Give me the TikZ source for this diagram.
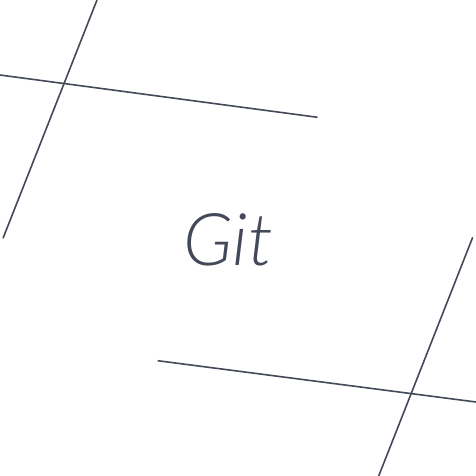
\documentclass[tikz,border=0pt]{standalone}
\usepackage{fontspec}
\newfontfamily\gitfont{Lato Light Italic}
\definecolor{gitgray}{RGB}{67,73,89}
\begin{document}
\begin{tikzpicture}[x=1pt,y=-1pt,line width=1.6pt]
		\useasboundingbox (0,0) rectangle (476,476);
		\begin{scope}[draw=gitgray]
			\draw (97,0)--(3,238.3);
			\draw (0,75)--(317.5,117.3);
			\draw (157.7,360.7)--(476,402);
			\draw (472.7,237.3)--(378.7,476);
		\end{scope}
		\node[anchor=base,text=gitgray,inner sep=0pt,font=\gitfont\fontsize{72.6}{80}\selectfont] (git) at (228,265) {Git};
	\end{tikzpicture}
\end{document}
